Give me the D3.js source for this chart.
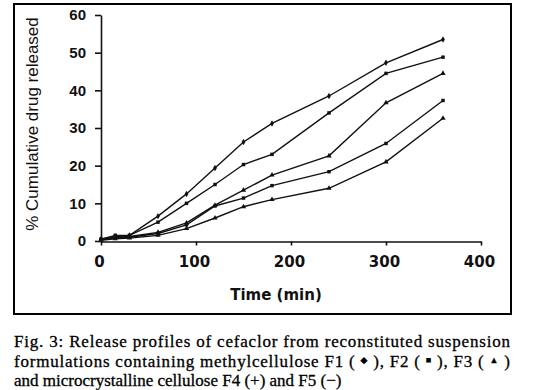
<!DOCTYPE html>
<html>
<meta charset="utf-8">
<head>
<style>
body { margin: 0; background: #fff; }
.tickY text { font-family: "Liberation Sans", Arial, sans-serif; font-weight: bold; font-size: 15px; }
.tickX text { font-family: "DejaVu Sans", Verdana, sans-serif; font-weight: bold; font-size: 15px; }
.caption { font-family: "Liberation Serif", "DejaVu Serif", serif; font-size: 17px; fill: #000; stroke: #000; stroke-width: 0.3px; }
.series { fill: none; stroke: #111; stroke-width: 1.4px; }
</style>
</head>
<body>
<script src="https://d3js.org/d3.v7.min.js"></script>
<script>

// sampling times (min)
var times = [0, 15, 30, 60, 90, 120, 150, 180, 240, 300, 360];

// % cumulative drug released
var f1 = [0.5, 1.2, 1.5, 6.6, 12.5, 19.4, 26.3, 31.2, 38.5, 47.3, 53.5];
var f2 = [0.5, 1.5, 1.5, 5.0, 10.0, 15.0, 20.3, 23.0, 34.0, 44.5, 48.8];
var f3 = [0.3, 1.0, 1.2, 2.3, 4.8, 9.5, 13.5, 17.5, 22.6, 36.7, 44.5];
var f4 = [0.3, 1.0, 1.0, 2.0, 4.3, 9.3, 11.4, 14.7, 18.4, 25.9, 37.3];
var f5 = [0.2, 0.6, 0.8, 1.5, 3.3, 6.1, 9.1, 11.0, 14.0, 21.0, 32.6];

var seriesNames = ["F1", "F2", "F3", "F4", "F5"];
var xTicks = [0, 100, 200, 300, 400];
var yTicks = [0, 10, 20, 30, 40, 50, 60];

var series = [f1, f2, f3, f4, f5];
var symbols = [d3.symbolDiamond, d3.symbolSquare, d3.symbolTriangle, d3.symbolSquare, d3.symbolTriangle];

var svg = d3.select("body").append("svg")
    .attr("width", 542)
    .attr("height", 390);

// frame round the plot
svg.append("rect")
    .attr("x", 14).attr("y", 4)
    .attr("width", 497).attr("height", 310)
    .style("fill", "none")
    .style("stroke", "#000")
    .style("stroke-width", "2px");

var x = d3.scaleLinear().domain([0, 400]).range([101, 481]);
var y = d3.scaleLinear().domain([0, 60]).range([241, 15]);

// axes
svg.append("g")
    .attr("class", "tickX")
    .attr("transform", "translate(0,241.5)")
    .call(d3.axisBottom(x).tickValues(xTicks).tickSize(4).tickPadding(11).tickSizeOuter(0))
    .call(g => g.selectAll("line, path").attr("stroke", "#111").attr("stroke-width", 1.6))
    .call(g => g.selectAll("text").attr("fill", "#111").attr("dx", -2));

svg.append("g")
    .attr("class", "tickY")
    .attr("transform", "translate(101,0)")
    .call(d3.axisLeft(y).tickValues(yTicks).tickSize(6).tickPadding(9).tickSizeOuter(0))
    .call(g => g.selectAll("line, path").attr("stroke", "#111").attr("stroke-width", 1.6))
    .call(g => g.selectAll("text").attr("fill", "#111"));

// axis titles
svg.append("text")
    .attr("transform", "translate(38,124) rotate(-90)")
    .style("text-anchor", "middle")
    .style("font-family", "Liberation Sans, Arial, sans-serif")
    .style("font-size", "17px")
    .style("fill", "#111")
    .text("% Cumulative drug released");

svg.append("text")
    .attr("x", 276).attr("y", 300)
    .style("text-anchor", "middle")
    .style("font-family", "DejaVu Sans, Verdana, sans-serif")
    .style("font-weight", "bold")
    .style("font-size", "15px")
    .style("fill", "#111")
    .text("Time (min)");

// release curves
var line = d3.line()
    .x(function(d, i) { return x(times[i]); })
    .y(function(d) { return y(d); });

series.forEach(function(vals, k) {
  svg.append("path")
      .datum(vals)
      .attr("class", "series")
      .attr("d", line);

  svg.append("g").selectAll("path")
      .data(vals).enter()
      .append("path")
      .attr("transform", function(d, i) { return "translate(" + x(times[i]) + "," + y(d) + ")"; })
      .attr("d", d3.symbol().type(symbols[k]).size(12))
      .attr("fill", "#111");
});

// figure caption
var cap = svg.append("g").attr("class", "caption");

cap.append("text")
    .attr("x", 14).attr("y", 347)
    .attr("textLength", 496)
    .attr("lengthAdjust", "spacing")
    .text("Fig. 3: Release profiles of cefaclor from reconstituted suspension");

var l2 = cap.append("text")
    .attr("x", 14).attr("y", 367)
    .attr("textLength", 496)
    .attr("lengthAdjust", "spacing");
l2.append("tspan").text("formulations containing methylcellulose " + seriesNames[0] + " ( ");
l2.append("tspan").style("font-size", "9px").attr("dy", -4).text("\u25C6");
l2.append("tspan").attr("dy", 4).text(" ), " + seriesNames[1] + " ( ");
l2.append("tspan").style("font-size", "9px").attr("dy", -4).text("\u25A0");
l2.append("tspan").attr("dy", 4).text(" ), " + seriesNames[2] + " ( ");
l2.append("tspan").style("font-size", "9px").attr("dy", -4).text("\u25B2");
l2.append("tspan").attr("dy", 4).text("  )");

cap.append("text")
    .attr("x", 14).attr("y", 386)
    .text("and microcrystalline cellulose " + seriesNames[3] + " (+) and " + seriesNames[4] + " (\u2212)");

</script>
</body>
</html>
